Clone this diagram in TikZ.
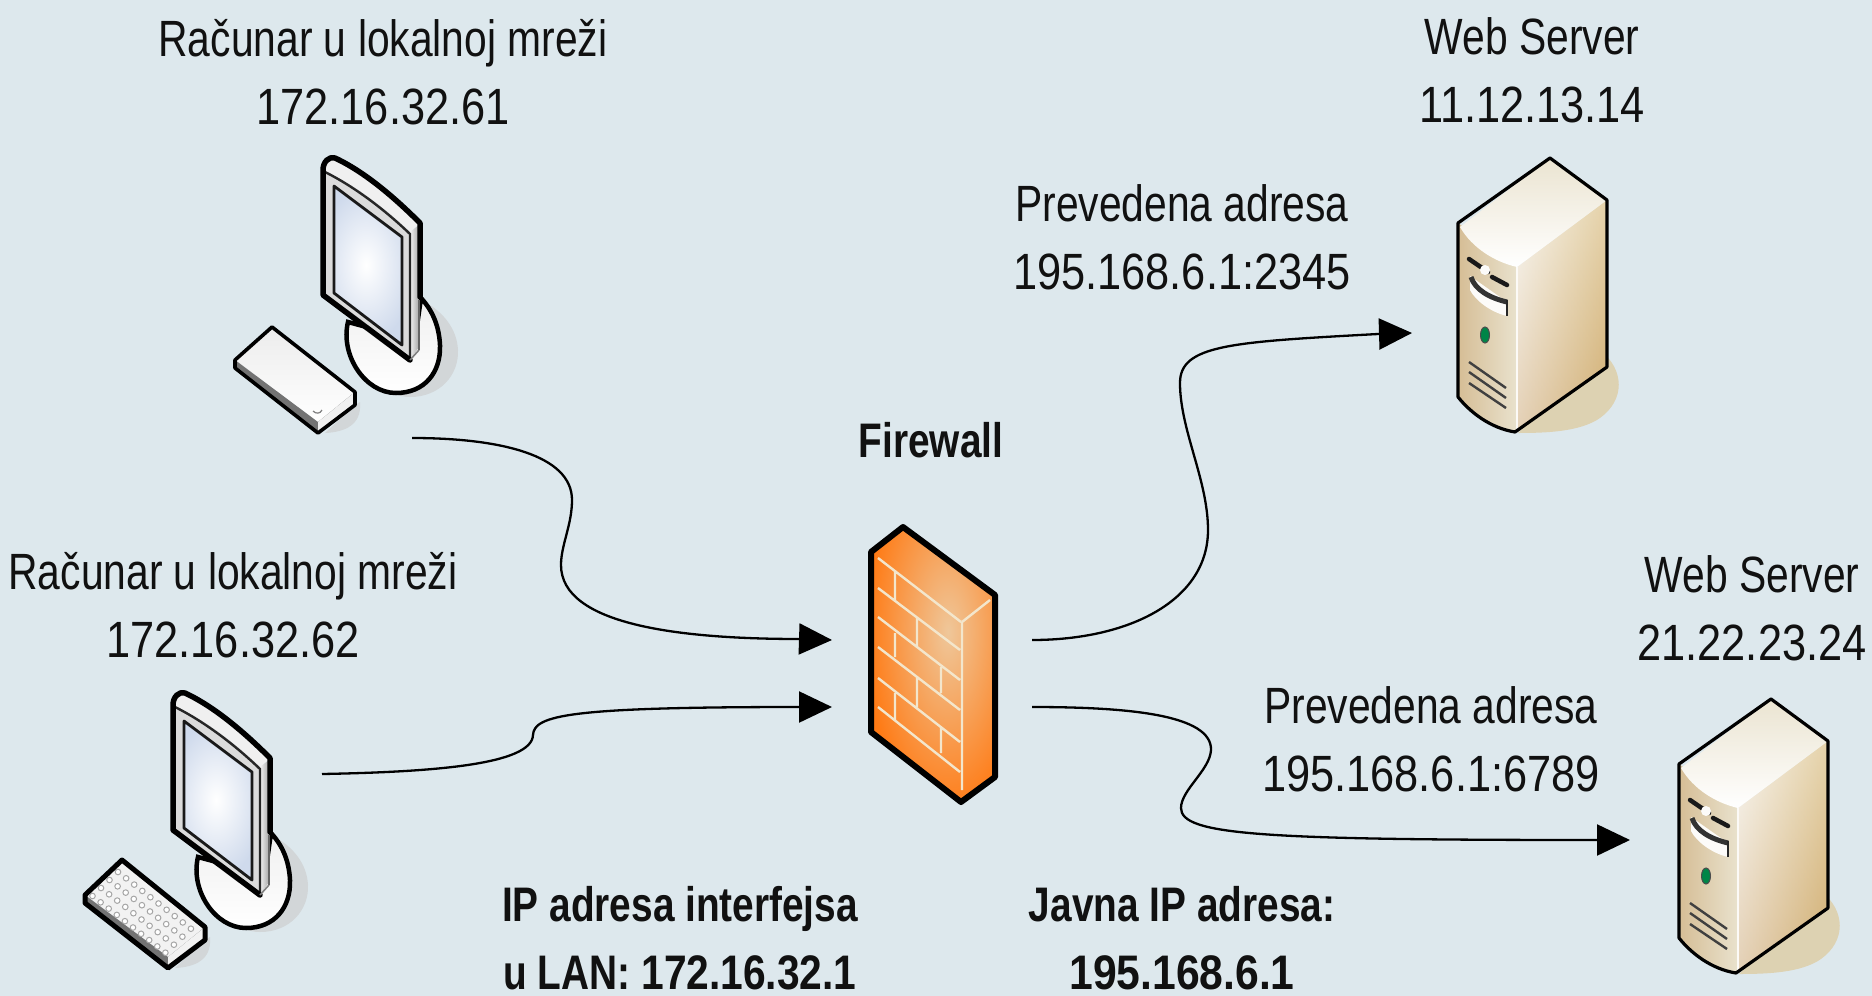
\documentclass[tikz,border=0pt]{standalone}
\usepackage{fontspec}
\setmainfont[FakeStretch=0.8]{Liberation Sans}
\newfontfamily\digf[FakeStretch=0.85]{Liberation Sans}
\newfontfamily\digb[FakeStretch=0.88]{Liberation Sans}
\newfontfamily\digc[FakeStretch=0.84]{Liberation Sans}
\usetikzlibrary{arrows.meta}
\definecolor{bgc}{HTML}{DDE8ED}
\definecolor{shad}{HTML}{D2D6D8}
\definecolor{txt}{HTML}{111111}
\definecolor{org}{HTML}{FF7A14}
\definecolor{hilite}{HTML}{EFC79A}
\definecolor{cream}{HTML}{F3E6CC}
\definecolor{tan}{HTML}{DDD2B2}
\definecolor{scrn}{HTML}{CFDAEC}
\tikzset{
  lbl/.style={anchor=base,inner sep=0pt,text=txt,font=\fontsize{51}{68}\selectfont},
  blbl/.style={lbl,font=\fontsize{48.5}{68}\selectfont\bfseries},
  conn/.style={line width=2.3pt,black,-{Triangle[length=33pt,width=31pt]}},
  ol/.style={line width=5.5pt,black,line join=round,line cap=round}
}
\newcommand{\monitorbody}{%
  % shadow of base
  \fill[shad] (365,330) .. controls (365,375) and (385,397) .. (410,397) .. controls (440,397) and (459,375) .. (458,350) .. controls (457,330) and (445,315) .. (430,305) -- cycle;
  % base
  \shade[top color=white!88!gray,bottom color=white,draw=black,line width=4.5pt]
    (348,322) .. controls (340,355) and (365,393) .. (396,393) .. controls (425,393) and (441,372) .. (440,345) .. controls (439,325) and (432,310) .. (421,298) -- (415,340) -- cycle;
  % side strip
  \shade[left color=white!90!gray,right color=gray!70] (410,232) -- (419,225) -- (419,347) -- (410,360) -- cycle;
  % top bar
  \fill[white!88!gray] (323,165) -- (335,158) .. controls (365,172) and (395,198) .. (420,223) -- (410,232) .. controls (385,208) and (355,185) .. (323,170) -- cycle;
  % front frame
  \fill[white!72!gray] (323,170) .. controls (355,185) and (385,208) .. (410,232) -- (410,360) -- (323,295) -- cycle;
  \draw[line width=2.4pt,black!85] (325,172) .. controls (355,187) and (385,210) .. (410,234) -- (410,360);
  % screen
  \begin{scope}
    \clip (334,186) -- (402,237) -- (402,345) -- (334,293) -- cycle;
    \fill[scrn] (330,180) rectangle (410,350);
    \shade[inner color=white,outer color=scrn] (366,265) ellipse (48 and 78);
  \end{scope}
  \draw[line width=2.8pt,black!90,line join=round] (334,186) -- (402,237) -- (402,345) -- (334,293) -- cycle;
  % outline
  \draw[ol] (420,297) -- (420,223) .. controls (395,198) and (365,172) .. (335,158) .. controls (329,156) and (323,162) .. (323,170) -- (323,295) -- (410,360);
  \draw[line width=1.6pt,gray] (410,360) -- (419,350);
  \draw[line width=1.6pt,gray!80!black] (419,300) -- (419,350);
}
\newcommand{\kbshadow}{\fill[shad] (325,433) -- (355,405) -- (360,402) .. controls (362,425) and (345,432) .. (325,433) -- cycle;}
\newcommand{\serverbody}{%
  \fill[tan] (1600,350) .. controls (1625,370) and (1625,400) .. (1600,418) .. controls (1580,432) and (1545,433) .. (1518,433) -- cycle;
  % right face
  \shade[left color=white!70!tan,right color=tan!55!brown!90!yellow] (1517,267) -- (1607,200) -- (1607,367) -- (1517,432) -- cycle;
  \shade[top color=white,bottom color=brown!60!tan,opacity=.4] (1517,267) -- (1607,200) -- (1607,367) -- (1517,432) -- cycle;
  % front face
  \shade[left color=tan!75!brown,right color=white!35!tan] (1458,223) -- (1517,267) -- (1517,432) .. controls (1490,425) and (1470,412) .. (1458,397) -- cycle;
  % top face
  \shade[top color=tan!60!white,bottom color=white] (1460,227) -- (1550,158) -- (1607,200) -- (1517,267) .. controls (1495,262) and (1472,248) .. (1460,227) -- cycle;
  % corner highlight
  \draw[line width=1.4pt,white!90!tan] (1517,267) -- (1517,430);
  % slot
  \draw[line width=4.5pt,black!90,line cap=round] (1469,259) -- (1488,272);
  \draw[line width=4.5pt,black!90,line cap=round] (1492,277) -- (1507,285);
  \fill[white!92!tan] (1485,270) circle (5);
  % drive bay
  \fill[white!92!tan] (1470,276) -- (1507,302) -- (1507,316) .. controls (1490,312) and (1475,300) .. (1470,290) -- cycle;
  \draw[line width=5pt,black!80] (1471,277) .. controls (1475,290) and (1490,298) .. (1507,302);
  \draw[line width=2.4pt,black!85] (1507,300) -- (1507,316);
  % led
  \fill[teal!70!green!80!black,draw=black!70,line width=1pt] (1485,335) ellipse (4.5 and 8);
  % vents
  \draw[line width=2.4pt,black!75] (1469,362) -- (1506,388) (1469,372) -- (1506,398) (1469,383) -- (1506,408);
  % outline
  \draw[line width=3.2pt,black,line join=round] (1458,223) -- (1550,158) -- (1607,200) -- (1607,367) -- (1515,432) .. controls (1490,428) and (1470,412) .. (1458,397) -- cycle;
}
\begin{document}
\begin{tikzpicture}[x=1pt,y=-1pt]
\fill[bgc] (0,0) rectangle (1872,996);
\useasboundingbox (0,0) rectangle (1872,996);

% computer 1
\monitorbody
\kbshadow
\shade[top color=white!85!gray,bottom color=white] (272,327) -- (235,360) -- (318,422) -- (355,392) -- cycle;
\fill[black!55] (235,360) -- (318,422) -- (355,392) -- (355,405) -- (318,433) -- (235,370) -- cycle;
\fill[white!88!gray] (318,422) -- (355,392) -- (355,403) -- (318,431) -- cycle;
\draw[line width=3.6pt,black,line join=round] (272,327) -- (235,360) -- (235,368) -- (318,433) -- (355,405) -- (355,392) -- cycle;
\draw[line width=1.2pt,gray] (313,411) .. controls (316,414) and (320,414) .. (322,410);

% computer 2
\begin{scope}[shift={(-150,535)}]
\monitorbody
\kbshadow
\fill[white!90!gray] (272,325) -- (235,360) -- (318,422) -- (355,392) -- cycle;
\fill[black!55] (235,360) -- (318,422) -- (355,392) -- (355,405) -- (318,433) -- (235,370) -- cycle;
\fill[white!90!gray] (318,422) -- (355,392) -- (355,403) -- (318,431) -- cycle;
\foreach \i in {0,...,9}{\foreach \j in {0,...,3}{
  \fill[white,draw=gray!70,line width=1pt]
    ({268+\i*8.1-\j*8.5},{337+\i*6.3+\j*8}) circle (2.8);
}}
\draw[line width=5pt,black,line join=round] (272,325) -- (235,360) -- (235,368) -- (318,433) -- (355,405) -- (355,392) -- cycle;
\end{scope}

% servers
\serverbody
\begin{scope}[shift={(221,541)}]
\serverbody
\end{scope}

% firewall
\begin{scope}
  \clip (871,552) -- (903,527) -- (995,595) -- (995,777) -- (961,802) -- (871,732) -- cycle;
  \fill[org] (860,520) rectangle (1000,810);
  \shade[inner color=hilite,outer color=org] (948,632) ellipse (82 and 185);
\end{scope}
\draw[cream,line width=2.4pt]
  (878,558) -- (961,622) (878,588) -- (960,650) (878,617) -- (960,680)
  (878,647) -- (960,710) (878,678) -- (960,742) (878,707) -- (960,772)
  (895,572) -- (895,600) (917,618) -- (917,647) (895,633) -- (895,657)
  (941,667) -- (941,693) (917,678) -- (917,707) (895,693) -- (895,720)
  (941,727) -- (941,753) (962,622) -- (962,790) (962,622) -- (990,600);
\draw[line width=6pt,black,line join=round] (871,552) -- (903,527) -- (995,595) -- (995,777) -- (961,802) -- (871,732) -- cycle;

% anchors
\coordinate (c1out) at (412,438);
\coordinate (c2out) at (322,774);
\coordinate (fwin1) at (832,640);
\coordinate (fwin2) at (832,707);
\coordinate (fwout1) at (1032,640);
\coordinate (fwout2) at (1032,707);
\coordinate (s1in) at (1412,333);
\coordinate (s2in) at (1630,840);

% connectors
\draw[conn] (c1out) .. controls (500,438) and (572,455) .. (572,500) .. controls (572,525) and (561,545) .. (561,565) .. controls (561,625) and (680,639) .. (800,639) -- (fwin1);
\draw[conn] (c2out) .. controls (430,772) and (532,765) .. (533,735) .. controls (534,715) and (570,707) .. (800,707) -- (fwin2);
\draw[conn] (fwout1) .. controls (1130,640) and (1208,600) .. (1208,530) .. controls (1208,480) and (1180,430) .. (1180,383) .. controls (1180,345) and (1230,342) .. (1378,334) -- (s1in);
\draw[conn] (fwout2) .. controls (1130,707) and (1212,715) .. (1211,750) .. controls (1210,770) and (1181,790) .. (1181,808) .. controls (1181,835) and (1260,840) .. (1598,840) -- (s2in);

% labels (a multi-line node's base is its last line)
\node[lbl,align=center] (lc1) at (383,124) {Računar u lokalnoj mreži\\{\digf 172.16.32.61}};
\node[lbl,align=center] (lc2) at (233,657) {Računar u lokalnoj mreži\\{\digf 172.16.32.62}};
\node[lbl,align=center] (ls1) at (1532,122) {Web Server\\{\digf 11.12.13.14}};
\node[lbl,align=center] (ls2) at (1752,660) {Web Server\\{\digf 21.22.23.24}};
\node[lbl,align=center] (lp1) at (1182,289) {Prevedena adresa\\{\digf 195.168.6.1:2345}};
\node[lbl,align=center] (lp2) at (1431,791) {Prevedena adresa\\{\digf 195.168.6.1:6789}};
\node[blbl] (lf) at (931,457) {Firewall};
\node[blbl,align=center,text depth=0pt] (li) at (680,989) {IP adresa interfejsa\\u LAN: {\digc\bfseries 172.16.32.1}};
\node[blbl,align=center,text depth=0pt] (lj) at (1182,989) {Javna IP adresa:\\{\digb\bfseries 195.168.6.1}};
\end{tikzpicture}
\end{document}
